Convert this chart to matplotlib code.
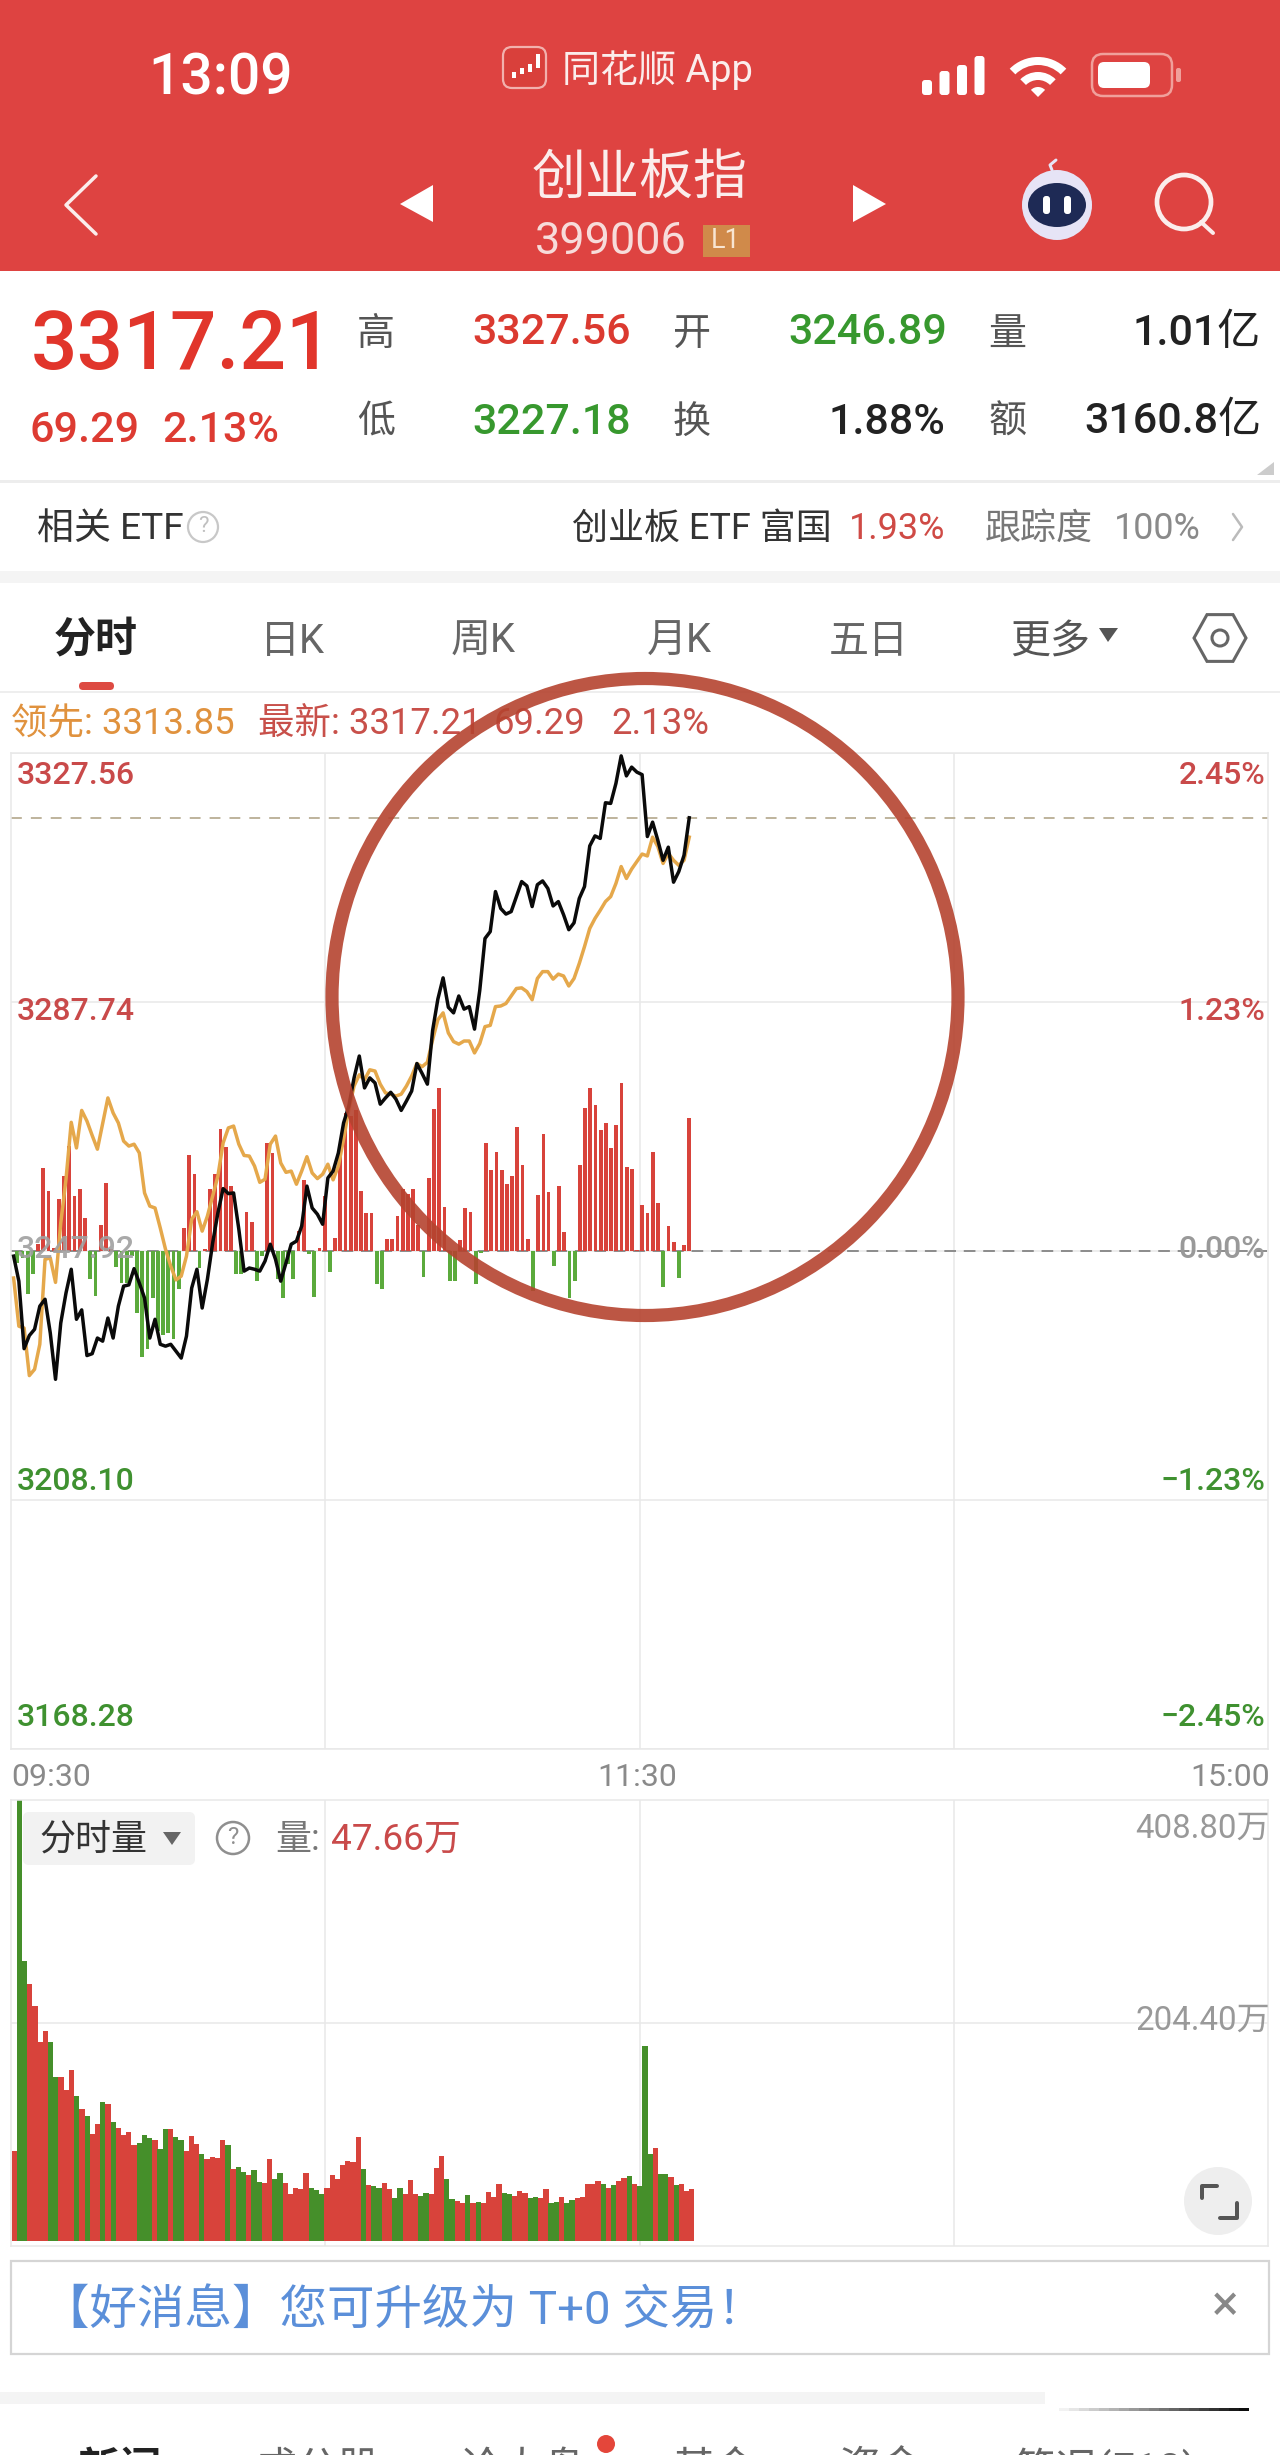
import numpy as np, matplotlib
matplotlib.use('Agg')
import matplotlib.pyplot as plt
from matplotlib.patches import Rectangle, Circle, Ellipse, Polygon, Wedge, FancyBboxPatch

plt.rcParams['font.family'] = ['Roboto', 'Noto Sans CJK SC', 'DejaVu Sans']

# minute data, 09:30 to 13:09
price = [3247.1, 3243.1, 3232.3, 3234.4, 3235.4, 3239.1, 3240.2, 3234.8, 3227.4, 3236.4,
         3241.2, 3245.0, 3237.0, 3238.5, 3231.2, 3231.5, 3234.0, 3233.5, 3237.2, 3234.0,
         3239.1, 3242.3, 3242.5, 3245.1, 3242.8, 3240.4, 3234.0, 3237.0, 3233.0, 3232.7,
         3233.0, 3231.9, 3230.8, 3234.3, 3242.0, 3245.0, 3238.8, 3243.4, 3249.2, 3254.0,
         3257.9, 3257.1, 3257.2, 3251.4, 3244.7, 3245.2, 3245.0, 3244.7, 3246.3, 3249.0,
         3246.6, 3243.1, 3246.0, 3249.0, 3249.5, 3251.9, 3258.3, 3254.8, 3253.8, 3252.2,
         3259.6, 3260.7, 3263.6, 3268.4, 3271.1, 3275.6, 3279.1, 3274.0, 3275.6, 3274.8,
         3271.4, 3272.4, 3273.3, 3272.2, 3270.4, 3271.9, 3273.5, 3277.9, 3276.3, 3274.6,
         3283.2, 3288.2, 3291.6, 3286.9, 3286.0, 3288.7, 3286.6, 3287.0, 3283.4, 3289.6,
         3297.9, 3299.0, 3305.4, 3302.7, 3301.8, 3302.2, 3304.6, 3307.0, 3306.3, 3303.0,
         3306.5, 3307.1, 3305.9, 3303.1, 3303.8, 3301.7, 3299.3, 3300.4, 3304.3, 3306.2,
         3312.7, 3314.3, 3313.9, 3319.6, 3319.5, 3322.7, 3327.1, 3323.9, 3325.3, 3324.5,
         3324.1, 3314.2, 3316.5, 3313.6, 3310.4, 3312.5, 3306.9, 3308.6, 3311.2, 3317.2]
leader = [3243.6, 3235.9, 3235.6, 3228.0, 3229.0, 3233.0, 3246.6, 3246.8, 3242.9, 3252.4,
          3259.4, 3268.5, 3264.4, 3270.4, 3268.7, 3266.4, 3264.2, 3268.3, 3272.4, 3270.0,
          3268.4, 3265.5, 3264.7, 3265.0, 3263.6, 3257.2, 3255.1, 3254.8, 3251.6, 3248.2,
          3245.5, 3243.3, 3243.9, 3247.1, 3253.0, 3254.2, 3251.1, 3253.5, 3256.7, 3259.9,
          3265.2, 3267.6, 3267.9, 3265.0, 3263.2, 3263.1, 3261.5, 3258.9, 3259.4, 3265.0,
          3266.3, 3262.0, 3260.5, 3260.7, 3258.6, 3260.7, 3263.0, 3260.4, 3259.5, 3260.2,
          3261.8, 3259.3, 3261.5, 3265.8, 3270.6, 3274.3, 3276.1, 3275.3, 3276.9, 3276.7,
          3274.6, 3273.2, 3273.0, 3272.7, 3273.0, 3274.3, 3275.9, 3277.9, 3277.4, 3278.1,
          3281.7, 3284.9, 3286.0, 3282.8, 3281.4, 3281.0, 3281.5, 3281.5, 3279.6, 3281.1,
          3283.8, 3284.0, 3287.0, 3287.1, 3287.5, 3288.7, 3289.9, 3290.0, 3289.4, 3288.1,
          3291.5, 3292.6, 3292.6, 3291.4, 3292.2, 3291.9, 3290.3, 3291.5, 3293.9, 3296.6,
          3299.5, 3301.1, 3302.4, 3303.8, 3304.6, 3306.7, 3309.4, 3307.5, 3309.0, 3310.2,
          3311.4, 3311.1, 3314.1, 3312.6, 3309.9, 3311.5, 3310.4, 3309.6, 3310.4, 3314.1]
# red/green bars around the zero line, in price axis units
flow = [-1.9, -1.1, -6.8, -3.7, 1.1, 13.3, 9.6, 0.5, 8.3, 12.0,
        16.8, 8.8, 9.9, 5.2, -4.5, -7.2, 4.2, 10.9, 0.3, -2.5,
        -5.1, -5.1, -0.8, -9.9, -16.9, -15.6, -7.5, -12.8, -13.4, -13.1,
        -14.0, -6.0, 3.7, 15.3, 12.3, -2.7, 0.3, 9.9, 12.3, 19.5,
        16.7, 10.4, -3.6, -3.6, 6.3, 4.6, -4.8, -0.8, 17.3, 15.6,
        -4.5, -7.5, -2.1, -4.5, 3.2, 11.4, -0.5, -7.4, 0.4, 8.8,
        -3.4, 2.0, 15.2, 22.1, 21.6, 22.5, 9.6, 6.1, 6.1, -5.2,
        -6.0, 1.9, 1.9, 5.6, 9.9, 9.1, 9.9, 4.1, -4.2, 11.7,
        22.7, 26.1, 7.1, -4.8, -4.8, 1.8, 6.9, 6.3, -5.3, -0.3,
        17.3, 12.9, 15.9, 12.9, 10.7, 12.0, 19.8, 13.7, 1.9, -6.4,
        8.9, 18.7, 9.4, -2.4, 10.4, 3.0, -7.5, -4.8, 13.8, 22.9,
        26.1, 23.3, 19.3, 20.5, 16.4, 20.1, 26.8, 13.5, 13.1, 0.2,
        7.4, 6.1, 15.8, 7.6, -5.7, 4.0, 1.5, -4.3, 1.0, 21.3]
volume = [86.9, 408.8, 261.4, 240.0, 219.6, 186.7, 196.7, 186.7, 154.9, 154.9,
          143.4, 161.7, 137.9, 125.7, 119.6, 103.1, 112.2, 131.8, 129.9, 113.5,
          108.3, 101.3, 104.3, 93.0, 94.6, 101.3, 99.1, 97.0, 89.1, 107.4,
          107.4, 100.0, 97.0, 86.9, 100.7, 93.9, 83.9, 79.3, 81.7, 80.8,
          97.0, 93.0, 70.8, 72.3, 67.7, 64.7, 69.5, 58.9, 57.3, 79.3,
          61.6, 67.1, 58.0, 47.3, 53.4, 52.5, 67.1, 52.8, 50.9, 47.3,
          52.8, 65.0, 61.0, 74.1, 77.8, 77.2, 100.0, 70.2, 55.8, 54.9,
          53.4, 58.0, 51.9, 43.6, 53.4, 47.9, 60.1, 47.9, 45.8, 48.8,
          47.3, 71.1, 82.4, 61.6, 43.3, 41.2, 39.7, 46.4, 39.7, 40.3,
          39.7, 49.4, 45.1, 56.4, 48.8, 47.9, 45.8, 50.3, 48.8, 43.6,
          44.8, 43.6, 52.5, 39.0, 40.3, 44.8, 39.0, 42.1, 44.2, 45.1,
          56.4, 57.0, 59.5, 56.4, 52.8, 55.8, 59.5, 62.5, 64.1, 56.4,
          54.9, 183.0, 83.9, 89.4, 66.2, 65.6, 63.5, 55.5, 56.4, 50.3, 51.8]
# volume bars that are green, all the others are red
volume_green = [1, 2, 7, 8, 12, 14, 17, 19, 24, 25, 26, 28, 29, 31, 32, 36, 41, 43, 44, 46, 47, 50, 51,
                57, 58, 59, 67, 69, 70, 73, 74, 78, 79, 83, 84, 87, 89, 94, 95, 99, 100, 103,
                104, 106, 107, 113, 115, 118, 120, 121, 122, 124, 125, 127]
price_ticks = [3168.28, 3208.10, 3247.92, 3287.74, 3327.56]
price_tick_labels = ['3168.28', '3208.10', '3247.92', '3287.74', '3327.56']
pct_tick_labels = ['\u22122.45%', '\u22121.23%', '0.00%', '1.23%', '2.45%']
time_ticks = [60, 120, 180]

RED = '#D8433B'
GREEN = '#458F2A'
TXT_RED = '#C94A4A'
TXT_GREEN = '#3F9130'
HEAD = '#DE4341'
GRID = '#E8E8E8'

W, H = 1280, 2455
fig = plt.figure(figsize=(W / 100, H / 100), dpi=100, facecolor='white')


def box(x0, y0, x1, y1):
    return [x0 / W, 1 - y1 / H, (x1 - x0) / W, (y1 - y0) / H]


# price panel
ax = fig.add_axes(box(11, 753, 1268, 1749))
ax.set_xlim(0, 240)
ax.set_ylim(price_ticks[0], price_ticks[-1])
ax.set_yticks(price_ticks)
ax.set_xticks(time_ticks)
ax.tick_params(length=0, labelleft=False, labelbottom=False)
ax.grid(True, color=GRID, lw=1.1)
ax.set_axisbelow(True)
for s in ax.spines.values():
    s.set_color(GRID)
    s.set_linewidth(1.1)

xs = np.arange(130) + 0.5
bar_x = np.linspace(1.2, 129.5, 130)
flow = np.array(flow)
ax.axhline(price_ticks[2], color='#8C8C8C', lw=1.4, dashes=(6, 4), zorder=1.5)
ax.axhline(price[-1], color='#B9AE94', lw=1.3, dashes=(6, 5), zorder=1.5)
ax.bar(bar_x, flow, bottom=price_ticks[2], width=0.72,
       color=[RED if f > 0 else '#5BAA3C' for f in flow], zorder=2)
ax.plot(xs, leader, color='#E5A84B', lw=2.5, zorder=3, solid_joinstyle='round')
ax.plot(xs, price, color='#0A0A0A', lw=2.5, zorder=4, solid_joinstyle='round')

# volume panel
axv = fig.add_axes(box(11, 1800, 1268, 2246))
axv.set_xlim(0, 240)
axv.set_ylim(0, 408.8)
axv.set_yticks([204.4])
axv.set_xticks(time_ticks)
axv.tick_params(length=0, labelleft=False, labelbottom=False)
axv.grid(True, color=GRID, lw=1.1)
axv.set_axisbelow(True)
for s in axv.spines.values():
    s.set_color(GRID)
    s.set_linewidth(1.1)
volume = np.array(volume)
vol_floor = 4.6
axv.bar(np.linspace(0.6, 130.0, 131), volume - vol_floor, bottom=vol_floor, width=1.0,
        color=[GREEN if i in volume_green else RED for i in range(131)], zorder=2)

# everything else is drawn in pixel coordinates on a see-through layer
ui = fig.add_axes([0, 0, 1, 1], zorder=10)
ui.set_xlim(0, W)
ui.set_ylim(H, 0)
ui.axis('off')


def T(x, y, s, size, color='#333333', ha='left', weight='normal', **kw):
    return ui.text(x, y + 4, s, fontsize=size * 0.72, color=color, ha=ha, va='center', weight=weight, **kw)


def rbox(x0, y0, x1, y1, r, fc='none', ec='none', lw=0, z=2):
    ui.add_patch(FancyBboxPatch((x0 + r, y0 + r), x1 - x0 - 2 * r, y1 - y0 - 2 * r,
                                boxstyle='round,pad=%f,rounding_size=%f' % (r, r),
                                fc=fc, ec=ec, lw=lw, zorder=z))


def poly(pts, color, z=3):
    ui.add_patch(Polygon(pts, closed=True, fc=color, ec='none', zorder=z))


def path(xp, yp, color, lw):
    ui.plot(xp, yp, color=color, lw=lw * 0.72, solid_capstyle='round', solid_joinstyle='round', zorder=4)


# header
ui.add_patch(Rectangle((0, 0), W, 271, fc=HEAD, ec='none', zorder=1))
T(221, 75, '13:09', 57, 'white', ha='center', weight='medium')
rbox(503, 47, 546, 88, 9, fc='#D9403B', ec='#F2B1AD', lw=1.6)
for bx, by0, by1 in [(512, 72, 78), (520, 68, 74), (528, 64, 72), (536, 54, 68)]:
    ui.add_patch(Rectangle((bx, by0), 4, by1 - by0, fc='white', ec='none', zorder=3))
T(657, 66, '同花顺 App', 38, '#FBEDEC', ha='center')
for i, top in enumerate([80, 71, 65, 56]):
    rbox(922 + 17.5 * i, top, 932 + 17.5 * i, 95, 3, fc='white', z=3)
for r0, wd in [(40, 8), (25, 8)]:
    ui.add_patch(Wedge((1038, 97), r0, 225, 315, width=wd, fc='white', ec='none', zorder=3))
ui.add_patch(Wedge((1038, 97), 10, 225, 315, fc='white', ec='none', zorder=3))
rbox(1092, 54, 1172, 96, 11, ec='#F0A09B', lw=1.8, z=3)
rbox(1098, 62, 1150, 88, 6, fc='white', z=3)
rbox(1176, 68, 1181, 82, 2, fc='#F0A09B', z=3)
T(640, 175, '创业板指', 54, '#FBEDEC', ha='center')
T(535, 238, '399006', 45, '#F7DCDA')
ui.add_patch(Rectangle((703, 225), 47, 32, fc='#D08A4A', ec='none', zorder=3))
T(726, 237, 'L1', 27, '#F8E5D2', ha='center').set_zorder(4)
path([96, 66, 96], [176, 205, 234], '#FBEDEC', 3.5)
poly([(433, 185), (400, 204), (433, 222)], 'white')
poly([(853, 185), (886, 204), (853, 222)], 'white')
ui.add_patch(Circle((1057, 205), 35, fc='#E6E4F6', ec='none', zorder=3))
ui.add_patch(Ellipse((1057, 205), 58, 44, fc='#1E2A55', ec='none', zorder=4))
rbox(1043, 196, 1050, 214, 3, fc='white', z=5)
rbox(1064, 196, 1071, 214, 3, fc='white', z=5)
path([1052, 1050, 1056], [170, 165, 160], '#E6E4F6', 3)
ui.add_patch(Circle((1184, 202), 27, fc='none', ec='#FBEDEC', lw=3.4, zorder=4))
path([1201, 1213], [222, 233], '#FBEDEC', 4)

# quote block
T(31, 343, '3317.21', 82, '#E1352B', weight='medium')
T(30, 427, '69.29', 43, '#DD3B32', weight='medium')
T(162, 427, '2.13%', 43, '#DD3B32', weight='medium')
for lab, x, y in [('高', 357, 330), ('开', 673, 330), ('量', 988, 330), ('低', 357, 418), ('换', 673, 418), ('额', 988, 418)]:
    T(x, y, lab, 38, '#555555')
T(472, 329, '3327.56', 43, '#DB3A30', weight='medium')
T(472, 418, '3227.18', 43, '#37982E', weight='medium')
T(788, 329, '3246.89', 43, '#37982E', weight='medium')
T(945, 418, '1.88%', 43, '#222222', ha='right', weight='medium')
T(1261, 329, '1.01亿', 43, '#222222', ha='right', weight='medium')
T(1261, 418, '3160.8亿', 43, '#222222', ha='right', weight='medium')
poly([(1274, 462), (1274, 475), (1257, 475)], '#CCCCCC')
ui.add_patch(Rectangle((0, 480), W, 3, fc='#EDEDED', ec='none', zorder=1))

# ETF row
T(37, 525, '相关 ETF', 37, '#333333')
ui.add_patch(Circle((203, 527), 15, fc='white', ec='#C8C8C8', lw=1.6, zorder=3))
T(203, 523, '?', 22, '#C0C0C0', ha='center').set_zorder(4)
T(572, 525, '创业板 ETF 富国', 36, '#333333')
T(849, 525, '1.93%', 36, '#CF4A45')
T(985, 525, '跟踪度', 36, '#777777')
T(1114, 525, '100%', 36, '#8A8A8A')
path([1233, 1242, 1233], [514, 527, 540], '#BBBBBB', 2.5)
ui.add_patch(Rectangle((0, 571), W, 12, fc='#F4F4F4', ec='none', zorder=1))

# period tabs
T(96, 637, '分时', 42, '#222222', ha='center', weight='bold')
for lab, x in [('日K', 292), ('周K', 483), ('月K', 679), ('五日', 869)]:
    T(x, 637, lab, 40, '#666666', ha='center')
T(1050, 637, '更多', 40, '#555555', ha='center')
poly([(1099, 628), (1118, 628), (1108, 642)], '#555555')
rbox(79, 682, 114, 690, 4, fc='#DD4A42')
ang = np.radians(np.arange(0, 360, 60))
ui.add_patch(Polygon(np.c_[1220 + 26 * np.cos(ang), 638 + 27 * np.sin(ang)], closed=True, fc='none', ec='#666666', lw=2.2, zorder=3))
ui.add_patch(Circle((1220, 638), 8, fc='none', ec='#666666', lw=2.2, zorder=3))
ui.add_patch(Rectangle((0, 691), W, 2, fc='#EEEEEE', ec='none', zorder=1))

# legend line
T(11, 720, '领先: 3313.85', 36.5, '#E0923E')
T(258, 720, '最新: 3317.21', 36.5, '#C8504A')
T(494, 720, '69.29', 36.5, '#C8504A')
T(611, 720, '2.13%', 36.5, '#C8504A')

# axis labels
left_y = [1713, 1477, 1245, 1007, 772]
left_c = [TXT_GREEN, TXT_GREEN, '#A0A0A0', TXT_RED, TXT_RED]
right_c = [TXT_GREEN, TXT_GREEN, '#999999', TXT_RED, TXT_RED]
for lab, pct, y, c1, c2 in zip(price_tick_labels, pct_tick_labels, left_y, left_c, right_c):
    T(17, y, lab, 32, c1, weight='medium', alpha=0.9 if c1 == '#A0A0A0' else 1)
    T(1265, y, pct, 32, c2, ha='right', weight='medium')
T(11, 1773, '09:30', 32, '#8A8A8A')
T(637, 1773, '11:30', 32, '#8A8A8A', ha='center')
T(1270, 1773, '15:00', 32, '#8A8A8A', ha='right')

# volume panel furniture
rbox(23, 1812, 195, 1865, 6, fc='#F2F2F2', z=3)
T(39, 1836, '分时量', 36, '#333333').set_zorder(4)
poly([(163, 1832), (181, 1832), (172, 1845)], '#666666', z=4)
ui.add_patch(Circle((233, 1838), 16, fc='white', ec='#8F8F8F', lw=1.8, zorder=3))
T(233, 1834, '?', 24, '#8F8F8F', ha='center').set_zorder(4)
T(275, 1836, '量:', 36, '#777777')
T(331, 1836, '47.66万', 37, '#C94A4A')
T(1270, 1825, '408.80万', 33, '#999999', ha='right')
T(1270, 2017, '204.40万', 33, '#999999', ha='right')
ui.add_patch(Circle((1218, 2201), 34, fc='#EEEEEE', ec='none', zorder=3))
path([1202, 1202, 1217], [2198, 2186, 2186], '#555555', 4)
path([1237, 1237, 1220], [2203, 2218, 2218], '#555555', 4)

# banner
ui.add_patch(Rectangle((11, 2261), 1258, 93, fc='white', ec='#D5D5D5', lw=1.6, zorder=1))
T(42, 2306, '【好消息】您可升级为 T+0 交易！', 47.5, '#5B8FD9')
T(1225, 2302, '×', 50, '#888888', ha='center')
ui.add_patch(Rectangle((0, 2392), 1045, 12, fc='#F4F4F4', ec='none', zorder=1))
for k in range(20):
    g = 1 - k / 20
    ui.add_patch(Rectangle((1049 + k * 10, 2408), 10, 3, fc=(g, g, g), ec='none', zorder=1))

# bottom tabs, almost cut off by the picture edge
T(120, 2466, '新闻', 42, '#222222', ha='center', weight='bold')
for lab, x in [('成分股', 318), ('论大盘', 522), ('基金', 714), ('资金', 881), ('简况(F10)', 1106)]:
    T(x, 2466, lab, 42, '#666666', ha='center')
ui.add_patch(Circle((606, 2444), 9, fc='#E4463A', ec='none', zorder=3))

# hand drawn ring over the chart
ui.add_patch(Ellipse((645, 997), 626, 637, fc='none', ec='#B5432F', lw=9.5, alpha=0.9, zorder=6))

fig.savefig('out.png', dpi=100)
